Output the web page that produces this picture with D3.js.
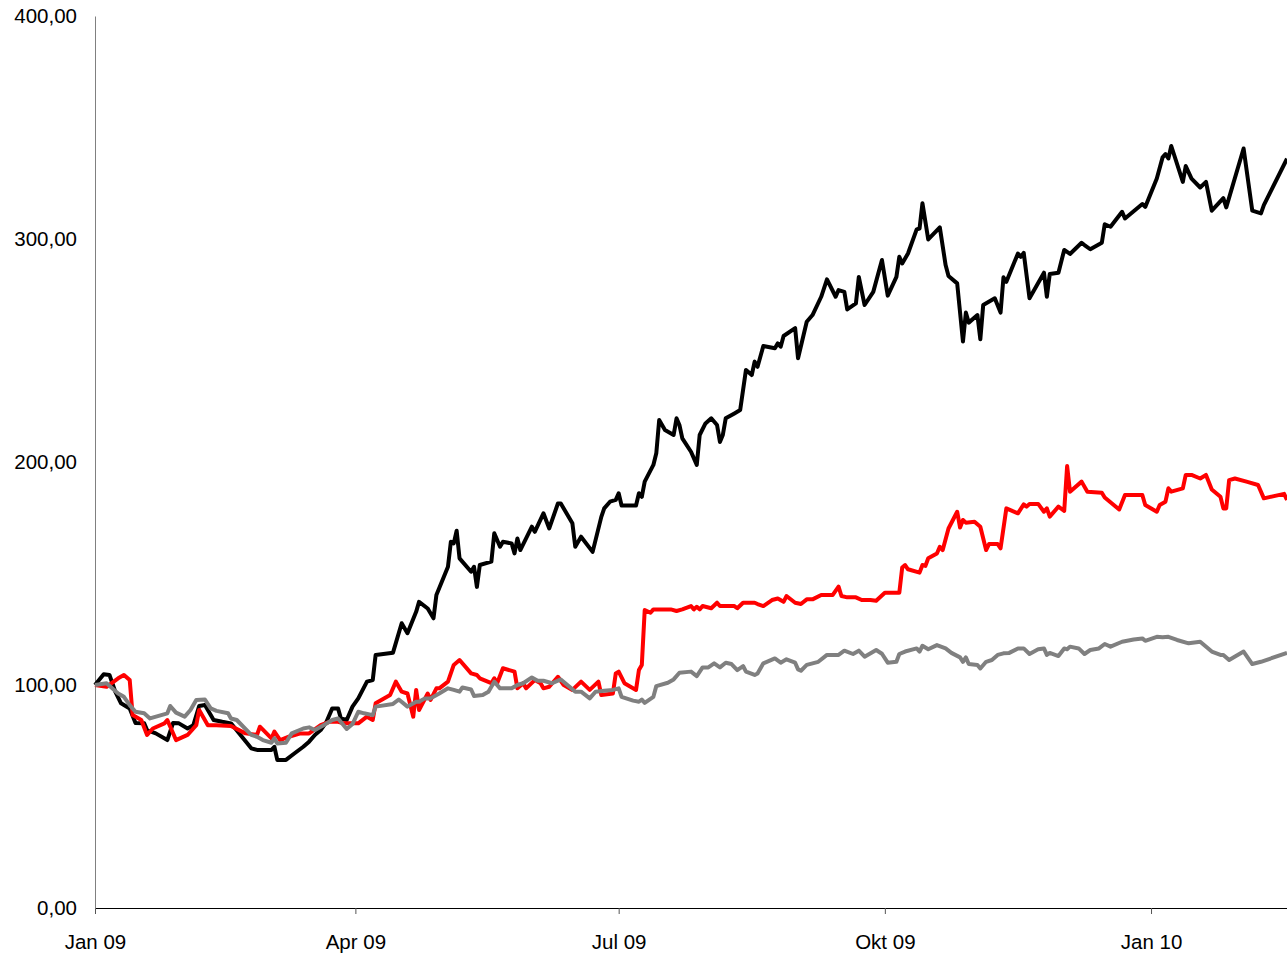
<!DOCTYPE html>
<html>
<head>
<meta charset="utf-8">
<script src="https://cdnjs.cloudflare.com/ajax/libs/d3/7.8.5/d3.min.js"></script>
<style>
    body { margin: 0; background: #fff; }
    svg text { font-family: "Liberation Sans", Arial, sans-serif; font-size: 20.5px; fill: #000; }
</style>
</head>
<body>
<svg id="chart"></svg>
<script>
// series: [date, value]
var blackSeries = [
    ["2009-01-01",100],["2009-01-04",104.8],["2009-01-06",104.5],["2009-01-08",97],["2009-01-10",91.8],
    ["2009-01-13",89.5],["2009-01-15",83],["2009-01-18",82.8],["2009-01-19",79.8],["2009-01-22",78.3],
    ["2009-01-26",75.3],["2009-01-28",83],["2009-01-30",82.8],["2009-02-02",80.5],["2009-02-04",82],
    ["2009-02-06",90.6],["2009-02-08",91],["2009-02-11",84.3],["2009-02-14",83.5],["2009-02-17",82.8],
    ["2009-02-24",71.6],["2009-02-26",70.9],["2009-03-03",70.9],["2009-03-04",72.3],["2009-03-05",66.4],
    ["2009-03-08",66.4],["2009-03-11",69.4],["2009-03-14",72.3],["2009-03-16",74.6],["2009-03-18",77.6],
    ["2009-03-20",79.8],["2009-03-22",83.5],["2009-03-24",89.5],["2009-03-26",89.5],["2009-03-27",85],
    ["2009-03-29",84.3],["2009-03-31",90.3],["2009-04-02",94],["2009-04-05",101.5],["2009-04-07",102.2],
    ["2009-04-08",113.5],["2009-04-14",114.5],["2009-04-17",127.7],["2009-04-19",123.2],["2009-04-22",132.8],
    ["2009-04-23",137.3],["2009-04-26",134.3],["2009-04-28",129.9],["2009-04-29",140.4],["2009-05-03",153],
    ["2009-05-04",164.2],["2009-05-05",163.5],["2009-05-06",169.2],["2009-05-07",156.8],["2009-05-11",150.8],
    ["2009-05-12",153],["2009-05-13",144],["2009-05-14",153.8],["2009-05-18",155.3],["2009-05-19",168],
    ["2009-05-21",162],["2009-05-22",164.2],["2009-05-25",163.5],["2009-05-26",159],["2009-05-27",165.7],
    ["2009-05-28",160.5],["2009-06-01",171],["2009-06-02",168.7],["2009-06-05",177],["2009-06-07",170.2],
    ["2009-06-10",181.4],["2009-06-11",181.4],["2009-06-15",172.5],["2009-06-16",162],["2009-06-18",166.5],
    ["2009-06-22",159.7],["2009-06-25",175.4],["2009-06-26",179.2],["2009-06-28",182.2],["2009-06-30",183],
    ["2009-07-01",186],["2009-07-02",180.5],["2009-07-07",180.5],["2009-07-08",186],["2009-07-09",184.4],
    ["2009-07-10",191.2],["2009-07-13",198.7],["2009-07-14",203.9],["2009-07-15",218.8],["2009-07-17",214.3],
    ["2009-07-20",212.1],["2009-07-21",219.6],["2009-07-22",216.6],["2009-07-23",210.6],["2009-07-26",204.6],
    ["2009-07-28",198.7],["2009-07-29",212.1],["2009-07-31",217.3],["2009-08-02",219.6],["2009-08-04",216.6],
    ["2009-08-05",209],["2009-08-06",212.1],["2009-08-07",219.6],["2009-08-10",221.8],["2009-08-12",223.3],
    ["2009-08-14",241.3],["2009-08-16",239],["2009-08-17",245],["2009-08-18",242.7],["2009-08-20",252],
    ["2009-08-24",251],["2009-08-25",253.2],["2009-08-26",251.7],["2009-08-27",256.5],["2009-08-31",260],
    ["2009-09-01",246.5],["2009-09-04",262.9],["2009-09-06",265.9],["2009-09-09",274.1],["2009-09-11",281.9],
    ["2009-09-14",274.1],["2009-09-15",277.1],["2009-09-17",276.3],["2009-09-18",268.4],["2009-09-21",271.1],
    ["2009-09-22",283],["2009-09-24",270.4],["2009-09-27",276.3],["2009-09-30",290.6],["2009-10-02",274.6],
    ["2009-10-05",283],["2009-10-06",292],["2009-10-07",289],["2009-10-09",293.5],["2009-10-12",304.3],
    ["2009-10-13",304.7],["2009-10-14",316],["2009-10-16",299.8],["2009-10-20",305.2],["2009-10-22",288.3],
    ["2009-10-23",283.4],["2009-10-26",280.1],["2009-10-28",254],["2009-10-29",267],["2009-10-30",262.5],
    ["2009-11-02",265.9],["2009-11-03",255],["2009-11-04",270.4],["2009-11-08",273.4],["2009-11-10",267],
    ["2009-11-11",282.8],["2009-11-12",280.8],["2009-11-16",293.5],["2009-11-17",292],["2009-11-18",293.8],
    ["2009-11-20",273.4],["2009-11-25",284.9],["2009-11-26",274.1],["2009-11-27",284.3],["2009-11-30",284.9],
    ["2009-12-02",295.1],["2009-12-04",293.3],["2009-12-08",298.3],["2009-12-09",297.3],["2009-12-11",295.4],
    ["2009-12-15",298.3],["2009-12-16",306.6],["2009-12-18",305.5],["2009-12-22",312.2],["2009-12-23",309.2],
    ["2009-12-29",315.7],["2009-12-30",314.4],["2010-01-03",327.1],["2010-01-05",336.6],["2010-01-06",338.1],
    ["2010-01-07",336.1],["2010-01-08",341.7],["2010-01-12",325.6],["2010-01-13",332.7],["2010-01-15",327.1],
    ["2010-01-18",323.1],["2010-01-20",325.6],["2010-01-22",312.7],["2010-01-26",318.3],["2010-01-27",314.2],
    ["2010-02-02",340.6],["2010-02-05",312.7],["2010-02-08",311.5],["2010-02-09",315.2],["2010-02-17",336]
];

var redSeries = [
    ["2009-01-01",100],["2009-01-05",99.2],["2009-01-09",103],["2009-01-11",104.5],["2009-01-13",102.2],
    ["2009-01-14",86.5],["2009-01-17",84.3],["2009-01-19",77.6],["2009-01-21",80.5],["2009-01-25",82.8],
    ["2009-01-26",84.3],["2009-01-29",75.3],["2009-02-02",77.6],["2009-02-05",82],["2009-02-06",88.8],
    ["2009-02-09",82],["2009-02-12",82],["2009-02-17",81.6],["2009-02-22",78.3],["2009-02-26",77.6],
    ["2009-02-27",81.3],["2009-03-03",76.1],["2009-03-04",79.1],["2009-03-06",75.3],["2009-03-09",76.8],
    ["2009-03-13",78.3],["2009-03-16",78.3],["2009-03-20",82],["2009-03-23",83.5],["2009-03-26",83.5],
    ["2009-03-28",82.8],["2009-03-30",82.8],["2009-04-02",82.8],["2009-04-05",85.8],["2009-04-07",84.3],
    ["2009-04-08",91.8],["2009-04-13",95.5],["2009-04-15",101.5],["2009-04-17",97],["2009-04-19",96.2],
    ["2009-04-21",85.8],["2009-04-22",97.8],["2009-04-23",88.8],["2009-04-26",96.2],["2009-04-27",93.3],
    ["2009-04-29",98.5],["2009-04-30",98.5],["2009-05-03",101.5],["2009-05-05",109],["2009-05-07",111.2],
    ["2009-05-11",105.2],["2009-05-13",104.5],["2009-05-14",103],["2009-05-18",100.8],["2009-05-19",103],
    ["2009-05-20",100.8],["2009-05-22",107.5],["2009-05-26",106],["2009-05-27",98.5],["2009-05-29",100.8],
    ["2009-05-30",98.5],["2009-06-02",102.2],["2009-06-04",100.8],["2009-06-05",98.5],["2009-06-07",99.2],
    ["2009-06-10",103.7],["2009-06-12",100],["2009-06-15",97.8],["2009-06-18",101.5],["2009-06-21",97.8],
    ["2009-06-24",101.5],["2009-06-25",95.5],["2009-06-29",96.2],["2009-06-30",105.2],["2009-07-01",106],
    ["2009-07-03",100.8],["2009-07-07",97.8],["2009-07-08",106.7],["2009-07-09",109],["2009-07-10",133.6],
    ["2009-07-12",132.4],["2009-07-13",133.9],["2009-07-19",133.9],["2009-07-21",133.2],["2009-07-23",133.9],
    ["2009-07-26",135.4],["2009-07-27",133.9],["2009-07-28",135.1],["2009-07-29",133.9],["2009-07-30",135.4],
    ["2009-08-02",134.4],["2009-08-04",136.9],["2009-08-05",135.4],["2009-08-10",135.4],["2009-08-11",134.4],
    ["2009-08-13",136.9],["2009-08-17",136.9],["2009-08-18",136.3],["2009-08-20",135.4],["2009-08-23",138.1],
    ["2009-08-25",138.8],["2009-08-27",137.3],["2009-08-28",139.9],["2009-08-31",136.9],["2009-09-02",136.3],
    ["2009-09-04",138.4],["2009-09-06",138.4],["2009-09-09",140.4],["2009-09-13",140.4],["2009-09-15",144.1],
    ["2009-09-16",139.9],["2009-09-18",139.3],["2009-09-21",139.3],["2009-09-23",138.1],["2009-09-26",138.1],
    ["2009-09-28",137.8],["2009-10-01",141.4],["2009-10-06",141.4],["2009-10-07",152.7],["2009-10-08",153.8],
    ["2009-10-09",151.9],["2009-10-13",150.4],["2009-10-14",153.8],["2009-10-15",153.4],["2009-10-16",156.8],
    ["2009-10-19",159],["2009-10-20",162],["2009-10-21",160.5],["2009-10-23",170.2],["2009-10-26",177.7],
    ["2009-10-27",170.6],["2009-10-28",174],["2009-10-29",172.8],["2009-11-01",173.2],["2009-11-03",171],
    ["2009-11-05",160.5],["2009-11-06",163.2],["2009-11-09",163.2],["2009-11-10",161.3],["2009-11-12",179.2],
    ["2009-11-16",177],["2009-11-18",181],["2009-11-19",180],["2009-11-20",181.2],["2009-11-23",181.2],
    ["2009-11-25",177.7],["2009-11-26",179.2],["2009-11-27",175.5],["2009-11-30",180],["2009-12-02",178.1],
    ["2009-12-03",198.2],["2009-12-04",186.7],["2009-12-08",191.2],["2009-12-10",186.7],["2009-12-15",186.2],
    ["2009-12-16",184.1],["2009-12-21",178.7],["2009-12-23",185.2],["2009-12-29",185.2],["2009-12-30",180.7],
    ["2010-01-03",177.7],["2010-01-04",180.7],["2010-01-06",182.2],["2010-01-07",188.2],["2010-01-08",186.7],
    ["2010-01-12",188.2],["2010-01-13",194.2],["2010-01-15",194.2],["2010-01-18",192.6],["2010-01-20",194.2],
    ["2010-01-22",187.7],["2010-01-25",184.4],["2010-01-26",179.2],["2010-01-27",179.2],["2010-01-28",191.9],
    ["2010-01-30",192.6],["2010-02-03",191.2],["2010-02-07",189.7],["2010-02-09",183.7],["2010-02-16",185.7],
    ["2010-02-17",183]
];

var graySeries = [
    ["2009-01-01",100],["2009-01-05",100.8],["2009-01-09",96.2],["2009-01-11",94.7],["2009-01-13",91],
    ["2009-01-15",88],["2009-01-18",87.3],["2009-01-20",85],["2009-01-26",87.3],["2009-01-27",90.6],
    ["2009-01-29",87.6],["2009-02-01",85.8],["2009-02-03",88.8],["2009-02-05",93.3],["2009-02-08",93.5],
    ["2009-02-10",89.5],["2009-02-12",88.4],["2009-02-16",87.3],["2009-02-17",85],["2009-02-19",84.3],
    ["2009-02-24",77.6],["2009-02-26",76.8],["2009-02-28",75.3],["2009-03-03",74.1],["2009-03-04",76.1],
    ["2009-03-05",73.8],["2009-03-08",74.1],["2009-03-10",78.3],["2009-03-14",80.5],["2009-03-16",81],
    ["2009-03-18",79.8],["2009-03-21",82],["2009-03-24",84.3],["2009-03-26",85],["2009-03-29",80.3],
    ["2009-03-31",82.5],["2009-04-02",88],["2009-04-04",87.3],["2009-04-07",86.5],["2009-04-08",90.3],
    ["2009-04-14",91.5],["2009-04-16",93.5],["2009-04-19",90.3],["2009-04-22",92.5],["2009-04-23",92.5],
    ["2009-04-25",94],["2009-04-27",94],["2009-04-30",96.2],["2009-05-03",98.5],["2009-05-05",97.8],
    ["2009-05-07",97],["2009-05-08",98.9],["2009-05-11",98],["2009-05-12",95.1],["2009-05-15",95.5],
    ["2009-05-17",97],["2009-05-19",101.5],["2009-05-21",98.5],["2009-05-25",98.5],["2009-05-27",100],
    ["2009-05-29",100.8],["2009-06-01",103.4],["2009-06-03",101.9],["2009-06-05",101.9],["2009-06-08",100.8],
    ["2009-06-11",102.5],["2009-06-14",99.2],["2009-06-16",97],["2009-06-18",97],["2009-06-21",94],
    ["2009-06-23",97],["2009-06-26",97.4],["2009-06-29",97.8],["2009-07-01",98.5],["2009-07-02",94.7],
    ["2009-07-06",93],["2009-07-08",92.5],["2009-07-09",93.5],["2009-07-10",92],["2009-07-13",94.7],
    ["2009-07-14",99.5],["2009-07-18",101],["2009-07-20",102.5],["2009-07-22",105.5],["2009-07-26",106],
    ["2009-07-28",104],["2009-07-30",107.9],["2009-08-01",107.9],["2009-08-03",109.7],["2009-08-05",107.9],
    ["2009-08-07",110],["2009-08-09",109.4],["2009-08-11",106.7],["2009-08-13",108.5],["2009-08-14",106],
    ["2009-08-17",104.5],["2009-08-18",105.2],["2009-08-20",109.7],["2009-08-24",111.9],["2009-08-26",110],
    ["2009-08-28",111.5],["2009-08-31",110],["2009-09-01",107],["2009-09-02",106.4],["2009-09-04",109],
    ["2009-09-08",110.4],["2009-09-11",113.5],["2009-09-15",113.5],["2009-09-17",115.4],["2009-09-20",113.9],
    ["2009-09-22",115.4],["2009-09-24",112.7],["2009-09-28",115.7],["2009-09-30",114],["2009-10-02",110],
    ["2009-10-05",110.4],["2009-10-06",113.9],["2009-10-08",115],["2009-10-12",116.4],["2009-10-13",115],
    ["2009-10-14",117.6],["2009-10-16",116],["2009-10-19",117.9],["2009-10-22",116.4],["2009-10-24",114.4],
    ["2009-10-27",112.4],["2009-10-28",110.4],["2009-10-29",112.4],["2009-10-30",109.4],["2009-11-02",109],
    ["2009-11-03",107.4],["2009-11-05",110.4],["2009-11-07",111.2],["2009-11-09",113.5],["2009-11-11",114.2],
    ["2009-11-13",114.4],["2009-11-16",116.4],["2009-11-18",116.4],["2009-11-20",113.9],["2009-11-23",116],
    ["2009-11-25",116.4],["2009-11-26",113.5],["2009-11-27",114.4],["2009-11-30",113],["2009-12-02",116.4],
    ["2009-12-03",116],["2009-12-04",117.2],["2009-12-07",116.4],["2009-12-09",113.9],["2009-12-11",115.7],
    ["2009-12-14",116.4],["2009-12-16",118.4],["2009-12-18",117.2],["2009-12-22",119.4],["2009-12-26",120.4],
    ["2009-12-29",120.9],["2009-12-30",119.8],["2010-01-03",121.6],["2010-01-05",121.4],["2010-01-07",121.6],
    ["2010-01-10",120.2],["2010-01-14",118.7],["2010-01-18",119.4],["2010-01-22",115],["2010-01-25",113.5],
    ["2010-01-26",113.5],["2010-01-28",111.2],["2010-02-02",115],["2010-02-05",109.4],["2010-02-08",110.4],
    ["2010-02-17",114.4]
];

var xTickDates = ["2009-01-01", "2009-04-01", "2009-07-01", "2009-10-01", "2010-01-01"];
var xTickLabels = ["Jan 09", "Apr 09", "Jul 09", "Okt 09", "Jan 10"];
var yTickValues = [0, 100, 200, 300, 400];
var xDomain = ["2009-01-01", "2010-02-17"];

var width = 1287;
var height = 953;
var plotLeft = 95, plotRight = 1287, plotTop = 16, plotBottom = 908;

var parseDate = d3.timeParse("%Y-%m-%d");
var deLocale = d3.formatLocale({ decimal: ",", thousands: ".", grouping: [3], currency: ["", " €"] });
var fmt = deLocale.format(".2f");

var svg = d3.select("#chart").attr("width", width).attr("height", height);

var x = d3.scaleTime()
    .domain(xDomain.map(parseDate))
    .range([plotLeft, plotRight]);

var y = d3.scaleLinear()
    .domain([0, 400])
    .range([plotBottom, plotTop]);

var xAxis = svg.append("g")
    .attr("transform", "translate(0," + plotBottom + ")")
    .call(d3.axisBottom(x)
        .tickValues(xTickDates.map(parseDate))
        .tickSizeInner(6).tickSizeOuter(0).tickPadding(20)
        .tickFormat(function(d, i) { return xTickLabels[i]; }));
xAxis.select(".domain").attr("stroke", "#000").attr("stroke-width", 1);
xAxis.selectAll(".tick line").attr("stroke", "#555");
xAxis.selectAll("text").attr("font-family", null).attr("font-size", null);

// y axis: gray line, no tick marks, just labels
var yAxis = svg.append("g")
    .attr("transform", "translate(" + plotLeft + ",0)")
    .call(d3.axisLeft(y).tickValues(yTickValues).tickSize(0).tickPadding(18).tickFormat(fmt));
yAxis.select(".domain").attr("stroke", "#808080").attr("stroke-width", 1);
yAxis.selectAll("text").attr("font-family", null).attr("font-size", null);

var line = d3.line()
    .x(function(d) { return x(parseDate(d[0])); })
    .y(function(d) { return y(d[1]); });

var seriesList = [
    { data: blackSeries, color: "#000000" },
    { data: redSeries, color: "#ff0000" },
    { data: graySeries, color: "#808080" }
];

svg.append("g")
    .selectAll("path")
    .data(seriesList)
    .enter().append("path")
    .attr("d", function(s) { return line(s.data); })
    .attr("fill", "none")
    .attr("stroke", function(s) { return s.color; })
    .attr("stroke-width", 4)
    .attr("stroke-linejoin", "round")
    .attr("stroke-linecap", "butt");
</script>
</body>
</html>
